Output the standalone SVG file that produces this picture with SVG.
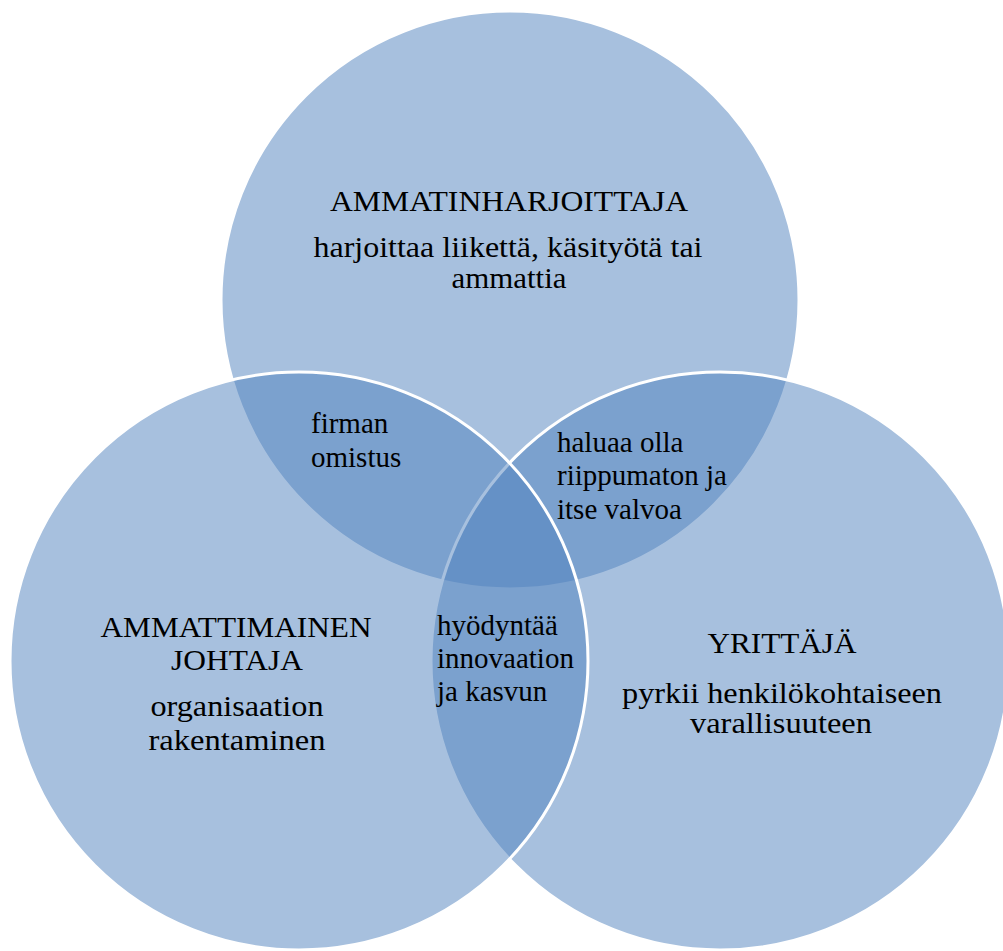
<svg xmlns="http://www.w3.org/2000/svg" width="1003" height="951" viewBox="0 0 1003 951">
<style>
.c{fill:#4F81BD;fill-opacity:0.5;stroke:#ffffff;stroke-width:3}
.m{text-anchor:middle;font-size:30px}
.s{font-size:29px}
</style>
<rect width="1003" height="951" fill="#ffffff"/>
<g id="connectors"></g>
<g id="top-circle">
<circle class="c" cx="510" cy="300" r="289"/>
</g>
<g id="right-circle">
<circle class="c" cx="720" cy="661" r="289"/>
</g>
<g id="left-circle">
<circle class="c" cx="299" cy="661" r="289"/>
</g>
<g id="top-label" font-family="'Liberation Serif', 'Times New Roman', serif" fill="#000000">
<text class="m" x="509" y="211" textLength="358" lengthAdjust="spacingAndGlyphs">AMMATINHARJOITTAJA</text>
<text class="m" x="508" y="257" textLength="389" lengthAdjust="spacingAndGlyphs">harjoittaa liikettä, käsityötä tai</text>
<text class="m" x="509" y="288" textLength="115" lengthAdjust="spacingAndGlyphs">ammattia</text>
</g>
<g id="left-label" font-family="'Liberation Serif', 'Times New Roman', serif" fill="#000000">
<text class="m" x="236" y="637" textLength="271" lengthAdjust="spacingAndGlyphs">AMMATTIMAINEN</text>
<text class="m" x="237" y="670" textLength="132" lengthAdjust="spacingAndGlyphs">JOHTAJA</text>
<text class="m" x="237" y="716" textLength="173" lengthAdjust="spacingAndGlyphs">organisaation</text>
<text class="m" x="237" y="750" textLength="177" lengthAdjust="spacingAndGlyphs">rakentaminen</text>
</g>
<g id="right-label" font-family="'Liberation Serif', 'Times New Roman', serif" fill="#000000">
<text class="m" x="782" y="653" textLength="149" lengthAdjust="spacingAndGlyphs">YRITTÄJÄ</text>
<text class="m" x="782" y="703" textLength="320" lengthAdjust="spacingAndGlyphs">pyrkii henkilökohtaiseen</text>
<text class="m" x="781" y="733" textLength="182" lengthAdjust="spacingAndGlyphs">varallisuuteen</text>
</g>
<g id="top-left-overlap" font-family="'Liberation Serif', 'Times New Roman', serif" fill="#000000">
<text class="s" x="311" y="433">firman</text>
<text class="s" x="311" y="467">omistus</text>
</g>
<g id="top-right-overlap" font-family="'Liberation Serif', 'Times New Roman', serif" fill="#000000">
<text class="s" x="557" y="452">haluaa olla</text>
<text class="s" x="557" y="485">riippumaton ja</text>
<text class="s" x="557" y="519">itse valvoa</text>
</g>
<g id="center-overlap" font-family="'Liberation Serif', 'Times New Roman', serif" fill="#000000">
<text class="s" x="437" y="635">hyödyntää</text>
<text class="s" x="437" y="668">innovaation</text>
<text class="s" x="437" y="701">ja kasvun</text>
</g>
</svg>
